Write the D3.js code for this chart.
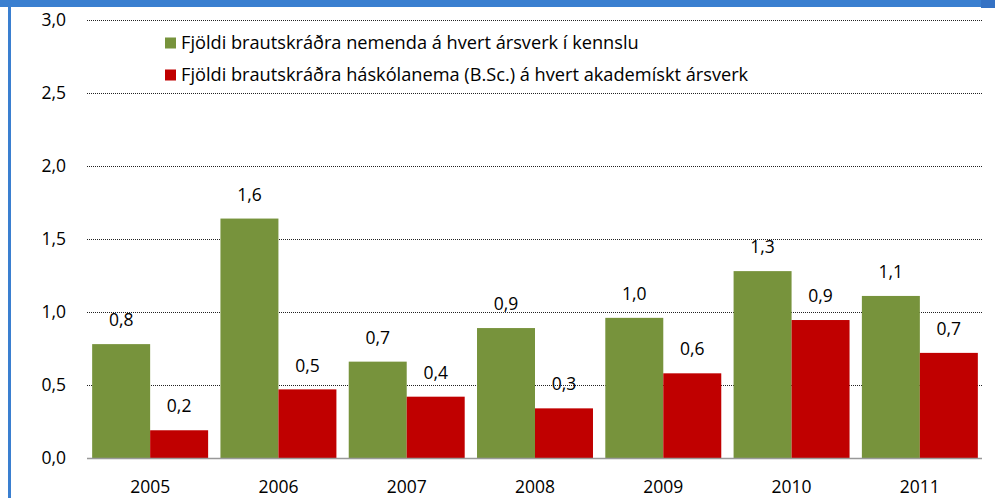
<!DOCTYPE html>
<html>
<head>
<meta charset="utf-8">
<script src="https://cdn.jsdelivr.net/npm/d3@7"></script>
<style>
  body { margin: 0; background: #fff; }
  svg { display: block; font-family: "Open Sans", Lato, sans-serif; }
</style>
</head>
<body>
<div id="chart"></div>
<script>
// data
var years = ["2005", "2006", "2007", "2008", "2009", "2010", "2011"];
var greenVals = [0.78, 1.64, 0.66, 0.89, 0.96, 1.28, 1.11];
var redVals = [0.19, 0.47, 0.42, 0.34, 0.58, 0.945, 0.72];
var seriesNames = [
    "Fjöldi brautskráðra nemenda á hvert ársverk í kennslu",
    "Fjöldi brautskráðra háskólanema (B.Sc.) á hvert akademískt ársverk"
];
var yTicks = [0, 0.5, 1.0, 1.5, 2.0, 2.5, 3.0];
var colors = ["#77933c", "#c00000"];

var w = 995, h = 498;
var mLeft = 87, mRight = 982, mTop = 20, mBottom = 458;
var fs = 17.5;

var svg = d3.select("#chart").append("svg")
    .attr("width", w)
    .attr("height", h);

// frame bits (blue band on top and left)
svg.append("rect").attr("x", 0).attr("y", 0).attr("width", w).attr("height", 7).attr("fill", "#3a7fd0");
svg.append("rect").attr("x", 981).attr("y", 0).attr("width", 14).attr("height", 8).attr("fill", "#3572c4");
svg.append("rect").attr("x", 8).attr("y", 0).attr("width", 3).attr("height", h).attr("fill", "#3a7fd0");

var x = d3.scaleBand().domain(years).range([86, 984]).paddingInner(0).paddingOuter(0);
var y = d3.scaleLinear().domain([0, 3]).range([mBottom, mTop]);
var gap = x.bandwidth() * 0.096;
var x1 = d3.scaleBand().domain([0, 1]).range([gap / 2, x.bandwidth() - gap / 2]);

var fmt = function (v) { return d3.format(".1f")(v).replace(".", ","); };

// gridlines
svg.append("g").selectAll("line")
    .data(yTicks.filter(function (d) { return d > 0; }))
    .enter().append("line")
    .attr("x1", mLeft).attr("x2", mRight)
    .attr("y1", function (d) { return y(d) + 0.5; })
    .attr("y2", function (d) { return y(d) + 0.5; })
    .attr("stroke", "#222")
    .attr("stroke-width", 1)
    .attr("stroke-dasharray", "1,1");

// y labels
svg.append("g").selectAll("text")
    .data(yTicks)
    .enter().append("text")
    .attr("x", 66)
    .attr("y", function (d) { return y(d); })
    .attr("dy", "0.35em")
    .attr("text-anchor", "end")
    .attr("font-size", fs)
    .attr("fill", "#000")
    .text(fmt);

var rows = years.map(function (yr, i) { return { year: yr, vals: [greenVals[i], redVals[i]] }; });

var groups = svg.append("g").selectAll("g")
    .data(rows)
    .enter().append("g")
    .attr("transform", function (d) { return "translate(" + x(d.year) + ",0)"; });

groups.selectAll("rect")
    .data(function (d) { return d.vals.map(function (v, k) { return { k: k, v: v }; }); })
    .enter().append("rect")
    .attr("x", function (d) { return x1(d.k); })
    .attr("width", x1.bandwidth())
    .attr("y", function (d) { return y(d.v); })
    .attr("height", function (d) { return mBottom - y(d.v); })
    .attr("fill", function (d) { return colors[d.k]; });

groups.selectAll("text")
    .data(function (d) { return d.vals.map(function (v, k) { return { k: k, v: v }; }); })
    .enter().append("text")
    .attr("x", function (d) { return x1(d.k) + x1.bandwidth() / 2; })
    .attr("y", function (d) { return y(d.v) - 24; })
    .attr("dy", "0.35em")
    .attr("text-anchor", "middle")
    .attr("font-size", fs)
    .text(function (d) { return fmt(d.v); });

// x axis
svg.append("line")
    .attr("x1", mLeft).attr("x2", mRight)
    .attr("y1", mBottom + 0.5).attr("y2", mBottom + 0.5)
    .attr("stroke", "#999").attr("stroke-width", 1.5);

svg.append("g").selectAll("text")
    .data(years)
    .enter().append("text")
    .attr("x", function (d) { return x(d) + x.bandwidth() / 2; })
    .attr("y", 487)
    .attr("dy", "0.35em")
    .attr("text-anchor", "middle")
    .attr("font-size", fs)
    .text(function (d) { return d; });

// legend
var legend = svg.append("g").selectAll("g")
    .data(seriesNames)
    .enter().append("g")
    .attr("transform", function (d, i) { return "translate(165," + (43 + i * 32) + ")"; });

legend.append("rect")
    .attr("x", 0).attr("y", -5.5)
    .attr("width", 11).attr("height", 11)
    .attr("fill", function (d, i) { return colors[i]; });

legend.append("text")
    .attr("x", 16).attr("y", 0)
    .attr("dy", "0.35em")
    .attr("font-size", 18.2)
    .text(function (d) { return d; });
</script>
</body>
</html>
